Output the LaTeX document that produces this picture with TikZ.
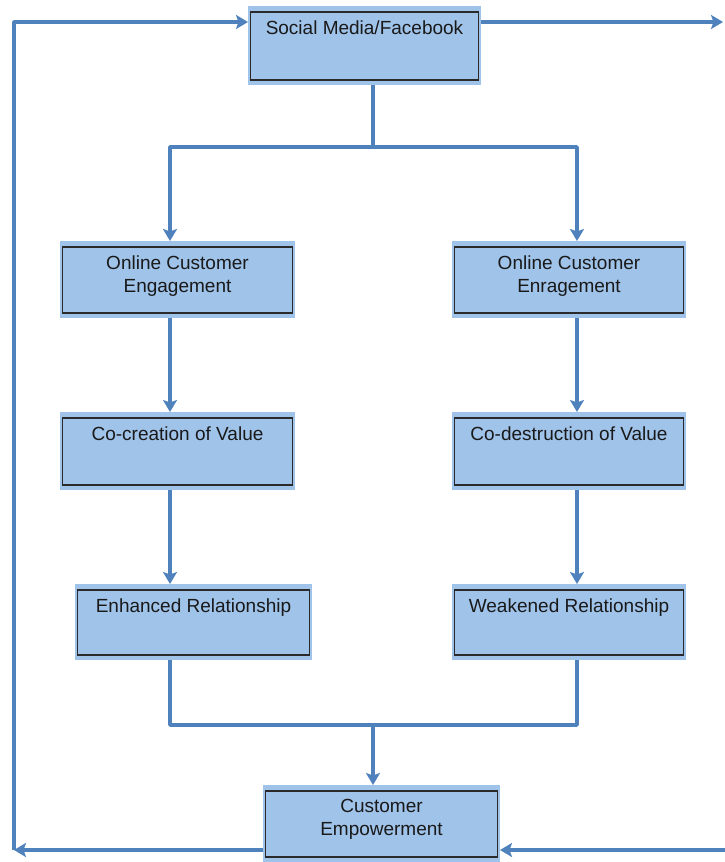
\documentclass[tikz,border=0pt]{standalone}
\usepackage{fontspec}
\setmainfont{Liberation Sans}
\usetikzlibrary{arrows.meta}
\definecolor{boxfill}{HTML}{A0C3EA}
\definecolor{conncol}{HTML}{4F81BD}
\definecolor{innerline}{HTML}{2A2A2A}
\tikzset{
  box/.style 2 args={fill=boxfill, inner sep=0pt, outer sep=0pt,
    minimum width=#1, minimum height=#2,
    path picture={\draw[innerline, line width=1.2pt]
      ([shift={(2.5pt,-6pt)}]path picture bounding box.north west) rectangle
      ([shift={(-2.5pt,5pt)}]path picture bounding box.south east);}},
  boxtext/.style={anchor=north, inner sep=0pt, align=center, text=black!90,
    font=\fontsize{19}{23}\selectfont},
  conn/.style={draw=conncol, line width=3.6pt, line join=round},
  arr/.style={conn, -{Stealth[length=12pt,width=14pt,inset=2.5pt]}}
}
\begin{document}
\begin{tikzpicture}[x=1pt,y=-1pt]
\useasboundingbox (0,0) rectangle (724,862);
% boxes
\node[box={233pt}{79pt}] (top) at (364.5,45.5) {};
\node[box={235pt}{77pt}] (eng) at (177.5,279.5) {};
\node[box={234pt}{77pt}] (enr) at (569,279.5) {};
\node[box={235pt}{78pt}] (coc) at (177.5,451) {};
\node[box={234pt}{78pt}] (cod) at (569,451) {};
\node[box={237pt}{76pt}] (enh) at (193.5,622) {};
\node[box={234pt}{76pt}] (wea) at (569,622) {};
\node[box={237pt}{77pt}] (emp) at (381.5,823.5) {};
% texts
\node[boxtext] (ttop) at ([yshift=-14.5pt]top.north) {Social Media/Facebook};
\node[boxtext] (teng) at ([yshift=-14.5pt]eng.north) {Online Customer\\Engagement};
\node[boxtext] (tenr) at ([yshift=-14.5pt]enr.north) {Online Customer\\Enragement};
\node[boxtext] (tcoc) at ([yshift=-14.5pt]coc.north) {Co-creation of Value};
\node[boxtext] (tcod) at ([yshift=-14.5pt]cod.north) {Co-destruction of Value};
\node[boxtext] (tenh) at ([yshift=-14.5pt]enh.north) {Enhanced Relationship};
\node[boxtext] (twea) at ([yshift=-14.5pt]wea.north) {Weakened Relationship};
\node[boxtext] (temp) at ([yshift=-14.5pt]emp.north) {Customer\\Empowerment};
% junction coordinates
\coordinate (jt) at (373,147);
\coordinate (jl) at (170,147);
\coordinate (jr) at (577,147);
\coordinate (bl) at (170,725);
\coordinate (br) at (577,725);
\coordinate (bm) at (373,725);
\coordinate (ll) at (14,850);
\coordinate (lt) at (14,22);
\coordinate (rt) at (723,22);
\coordinate (rb) at (726,850);
% connectors
\draw[conn] (top.south -| jt) -- (jt);
\draw[arr] (jt) -- (jl) -- (eng.north -| jl);
\draw[arr] (jt) -- (jr) -- (enr.north -| jr);
\draw[arr] (eng.south -| jl) -- (coc.north -| jl);
\draw[arr] (coc.south -| jl) -- (enh.north -| jl);
\draw[arr] (enr.south -| jr) -- (cod.north -| jr);
\draw[arr] (cod.south -| jr) -- (wea.north -| jr);
\draw[conn] (enh.south -| bl) -- (bl) -- (br) -- (wea.south -| br);
\draw[arr] (bm) -- (emp.north -| bm);
\draw[arr] (emp.west |- ll) -- (ll);
\draw[arr] (ll) -- (lt) -- (top.west |- lt);
\draw[arr] (top.east |- rt) -- (rt);
\draw[arr] (rb) -- (emp.east |- rb);
\end{tikzpicture}
\end{document}
